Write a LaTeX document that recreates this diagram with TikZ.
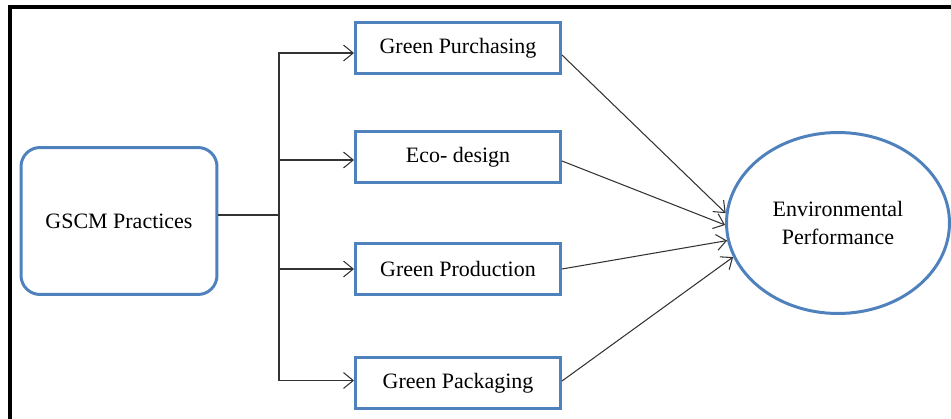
\documentclass[tikz,border=0pt]{standalone}
\usepackage{fontspec}
\setmainfont{Liberation Serif}
\usetikzlibrary{arrows.meta,shapes.geometric}
\definecolor{boxblue}{RGB}{79,129,189}
\tikzset{
  practice/.style={draw=boxblue,line width=1.7pt,minimum width=4.1cm,minimum height=1.02cm},
  link/.style={draw=black!80,line width=0.6pt,-{Straight Barb[length=5.5pt,width=9pt]}}
}
\begin{document}
\begin{tikzpicture}[x=0.02cm,y=-0.02cm,font=\fontsize{12.5}{16}\selectfont]
\useasboundingbox (0,0) rectangle (951,419);
% outer frame, only left and top edges inside the page
\draw[line width=2.3pt] (10,425) -- (10,7) -- (955,7);

\node[draw=boxblue,line width=1.7pt,rounded corners=0.38cm,minimum width=3.92cm,minimum height=2.94cm] (gscm) at (119,221) {GSCM Practices};

\node[practice] (purch) at (458,48) {Green Purchasing};
\node[practice] (eco) at (458,157) {Eco- design};
\node[practice] (prod) at (458,269) {Green Production};
\node[practice] (pack) at (458,383) {Green Packaging};

\node[ellipse,draw=boxblue,line width=1.7pt,minimum width=4.46cm,minimum height=3.62cm,align=center] (envp) at (838,223) {Environmental\\Performance};

\coordinate (jn) at (279,215);
\draw[draw=black!80,line width=0.6pt] (gscm.east |- jn) -- (jn);
\draw[link] (jn) |- ([yshift=-0.1cm]purch.west);
\draw[link] (jn) |- ([yshift=-0.06cm]eco.west);
\draw[link] (jn) |- (prod.west);
\draw[link] (jn) |- ([yshift=0.05cm]pack.west);

\draw[link] ([yshift=-0.14cm]purch.east) -- (envp.175);
\draw[link] ([yshift=-0.08cm]eco.east) -- (envp.181);
\draw[link] (prod.east) -- (envp.189);
\draw[link] ([yshift=0.04cm]pack.east) -- (envp.198);
\end{tikzpicture}
\end{document}
